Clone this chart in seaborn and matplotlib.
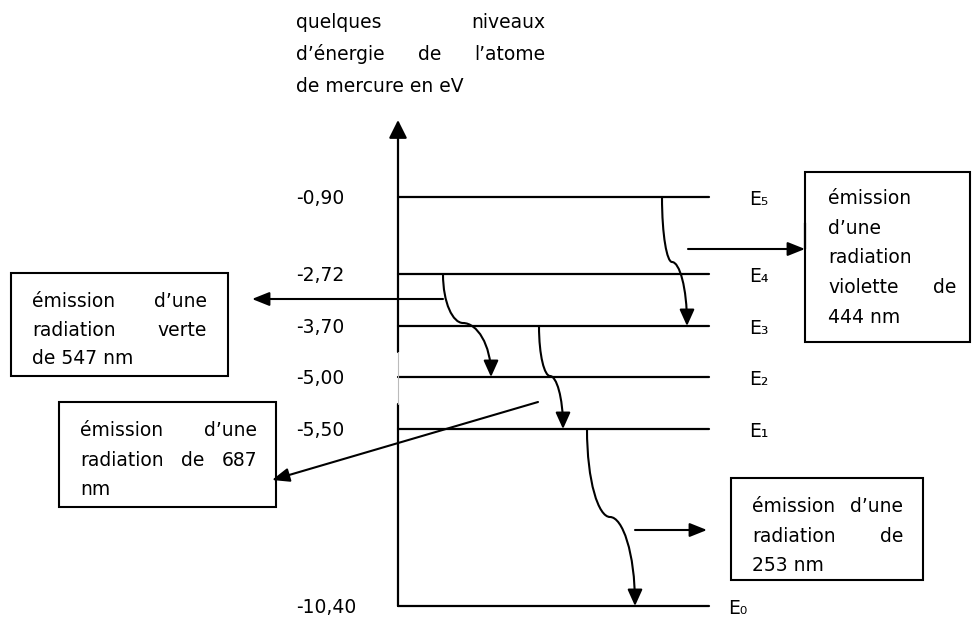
import numpy as np
import pandas as pd
import matplotlib.pyplot as plt
import seaborn as sns
from matplotlib.path import Path
from matplotlib.patches import FancyArrowPatch, Rectangle

# energy levels of the mercury atom (eV)
energies = [-10.40, -5.50, -5.00, -3.70, -2.72, -0.90]
energy_labels = ['-10,40', '-5,50', '-5,00', '-3,70', '-2,72', '-0,90']
level_names = ['E₀', 'E₁', 'E₂', 'E₃', 'E₄', 'E₅']

# transitions : upper level -> lower level, wavelength in nm
trans_upper = [5, 4, 3, 1]
trans_lower = [3, 2, 1, 0]
wavelengths = [444, 547, 687, 253]

title_lines = [['quelques', 'niveaux'],
               ['d’énergie', 'de', 'l’atome'],
               ['de mercure en eV']]

box_texts = {
    444: [['émission'], ['d’une'], ['radiation'], ['violette', 'de'], ['444 nm']],
    547: [['émission', 'd’une'], ['radiation', 'verte'], ['de 547 nm']],
    687: [['émission', 'd’une'], ['radiation', 'de', '687'], ['nm']],
    253: [['émission', 'd’une'], ['radiation', 'de'], ['253 nm']],
}

# schematic layout of the drawing (pixels, not to scale)
level_y = [606, 429, 377, 326, 274, 197]
x_axis, x_end = 398, 709

sns.set_theme(style='white')
plt.rcParams['font.family'] = ['DejaVu Sans']
plt.rcParams['text.color'] = 'black'
FS = 13.5

fig = plt.figure(figsize=(9.78, 6.18), dpi=100)
ax = fig.add_axes([0, 0, 1, 1])

# levels
rows = []
for i, e in enumerate(energies):
    rows.append({'level': i, 'x': x_axis, 'y': level_y[i]})
    rows.append({'level': i, 'x': x_end, 'y': level_y[i]})
df = pd.DataFrame(rows)
sns.lineplot(data=df, x='x', y='y', units='level', estimator=None,
             color='black', lw=1.6, legend=False, ax=ax, sort=False)
ax.set_xlim(0, 978)
ax.set_ylim(618, 0)
ax.axis('off')

for i, e in enumerate(energies):
    ax.text(296, level_y[i] + 7, energy_labels[i], fontsize=FS, va='baseline', ha='left')
    xn = 728 if i == 0 else 749
    ax.text(xn, level_y[i] + 8, level_names[i], fontsize=FS, va='baseline', ha='left')

# vertical axis (with a small gap)
ax.plot([x_axis, x_axis], [level_y[0], 404], color='black', lw=1.6)
ax.plot([x_axis, x_axis], [404, 352], color='#bbbbbb', lw=0.8)
ax.add_patch(FancyArrowPatch((x_axis, 352), (x_axis, 120), arrowstyle='-|>,head_length=1.1,head_width=0.55',
                             mutation_scale=10, color='black', lw=1.6, shrinkA=0, shrinkB=0))

renderer = fig.canvas.get_renderer()


def justified(words, x0, x1, yb, clip=None):
    if len(words) == 1:
        t = ax.text(x0, yb, words[0], fontsize=FS, va='baseline', ha='left')
        if clip is not None:
            t.set_clip_path(clip)
        return
    ts = [ax.text(0, yb, w, fontsize=FS, va='baseline', ha='left') for w in words]
    widths = [t.get_window_extent(renderer).width for t in ts]
    gap = (x1 - x0 - sum(widths)) / (len(words) - 1)
    x = x0
    for t, w in zip(ts, widths):
        t.set_x(x)
        x += w + gap


# title
for k, line in enumerate(title_lines):
    justified(line, 296, 545, 28 + k * 32)


def s_arrow(start, mid, end):
    (x0, y0), (xm, ym), (x1, y1) = start, mid, end
    verts = [(x0, y0), (x0, y0 + 0.6 * (ym - y0)), (xm - 0.5 * (xm - x0), ym), (xm, ym),
             (xm + 0.5 * (x1 - xm), ym), (x1, y1 - 0.6 * (y1 - ym)), (x1, y1)]
    codes = [Path.MOVETO] + [Path.CURVE4] * 6
    ax.add_patch(FancyArrowPatch(path=Path(verts, codes),
                                 arrowstyle='-|>,head_length=1.0,head_width=0.45',
                                 mutation_scale=10, color='black', lw=1.5,
                                 shrinkA=0, shrinkB=0))


def straight(a, b):
    ax.add_patch(FancyArrowPatch(a, b, arrowstyle='-|>,head_length=1.05,head_width=0.42',
                                 mutation_scale=10, color='black', lw=1.5,
                                 shrinkA=0, shrinkB=0))


def box(x0, y0, x1, y1):
    r = Rectangle((x0, y0), x1 - x0, y1 - y0, fill=False, ec='black', lw=1.5)
    ax.add_patch(r)
    return r


# curved transitions: x where each one leaves / bends / lands
curve_x = {444: (662, 672, 687), 547: (443, 463, 491), 687: (539, 550, 563), 253: (587, 610, 635)}
curve_mid_y = {444: 262, 547: 323, 687: 376, 253: 517}
for up, lo, wl in zip(trans_upper, trans_lower, wavelengths):
    xs, xm, xe = curve_x[wl]
    s_arrow((xs, level_y[up]), (xm, curve_mid_y[wl]), (xe, level_y[lo]))

# violet
straight((688, 249), (805, 249))
ax.plot([805, 805], [223, 249], color='black', lw=1.6)
box(805, 172, 970, 342)
for k, line in enumerate(box_texts[444]):
    justified(line, 828, 956, 204 + k * 29.7)

# green
straight((443, 299), (252, 299))
box(11, 273, 228, 376)
for k, line in enumerate(box_texts[547]):
    justified(line, 32, 207, 307 + k * 28.5, clip=Rectangle((11, 273), 217, 100, transform=ax.transData))

# 687
straight((538, 402), (272, 480))
box(59, 402, 276, 507)
for k, line in enumerate(box_texts[687]):
    justified(line, 80, 257, 436 + k * 29.5)

# 253
straight((635, 530), (707, 530))
box(731, 478, 923, 580)
for k, line in enumerate(box_texts[253]):
    justified(line, 752, 903, 512 + k * 29.5, clip=Rectangle((731, 478), 192, 99, transform=ax.transData))

fig.savefig('out.png', dpi=100)
